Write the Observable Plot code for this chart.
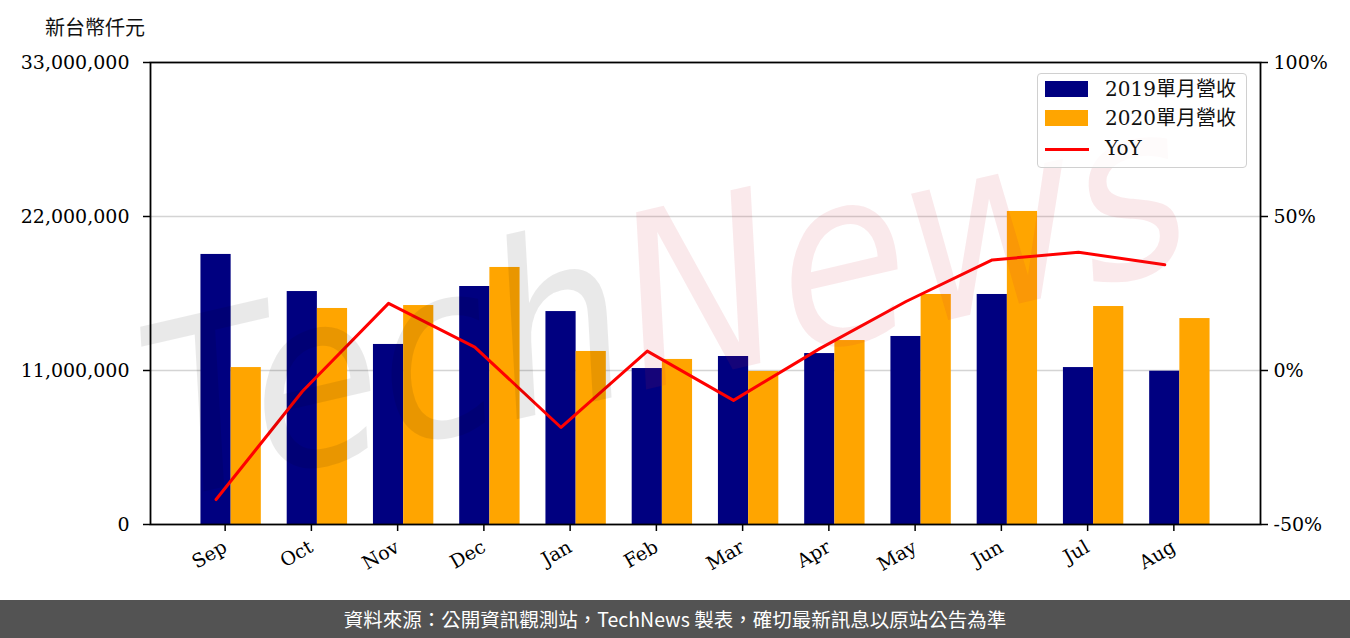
<!DOCTYPE html>
<html lang="zh-TW">
<head>
<meta charset="utf-8">
<script src="https://cdn.jsdelivr.net/npm/d3@7"></script>
<script src="https://cdn.jsdelivr.net/npm/@observablehq/plot@0.6"></script>
<style>
  body { margin: 0; background: #fff; }
  #wrap { position: relative; width: 1350px; height: 638px; overflow: hidden; background: #fff; }
  #ylab { position: absolute; left: 45px; top: 16px; font: 20px/22px "Noto Sans CJK TC", sans-serif; color: #111; }
  #legend { position: absolute; left: 1037px; top: 73px; width: 210px; height: 95px; border: 1.5px solid #d0d0d0; border-radius: 4px; background: rgba(255,255,255,0.8); box-sizing: border-box; }
  .sw { position: absolute; left: 7px; width: 43px; height: 16px; }
  .ln { position: absolute; left: 7px; width: 44px; height: 3px; }
  .lt { position: absolute; left: 67px; font: 20px/24px "DejaVu Serif", "Noto Sans CJK TC", serif; color: #111; white-space: nowrap; }
  #footer { position: absolute; left: 0; top: 600px; width: 1350px; height: 38px; background: #535353; color: #fff; text-align: center; font: 19.5px/38px "Noto Sans CJK TC", sans-serif; }
</style>
</head>
<body>
<div id="wrap">
  <div id="chart"></div>
  <div id="ylab"></div>
  <div id="legend"></div>
  <div id="footer" lang="zh-TW"></div>
</div>
<script>
const months = ["Sep","Oct","Nov","Dec","Jan","Feb","Mar","Apr","May","Jun","Jul","Aug"];
const rev2019 = [19290000,16640000,12860000,17000000,15210000,11140000,12000000,12210000,13430000,16430000,11210000,10950000];
const rev2020 = [11210000,15430000,15640000,18360000,12360000,11790000,10930000,13140000,16430000,22360000,15570000,14710000];
const yoy = [-41.9,-6.8,21.8,7.6,-18.5,6.3,-9.7,7.1,22.4,35.9,38.4,34.3];
const leftTicks = [0, 11000000, 22000000, 33000000];
const gridTicks = [11000000, 22000000];
const pctTicks = [-50, 0, 50, 100];
const seriesNames = ["2019單月營收", "2020單月營收", "YoY"];
const colors = ["#000080", "#ffa500", "#ff0000"];
const yLabel = "新台幣仟元";
const footerText = "資料來源：公開資訊觀測站，TechNews 製表，確切最新訊息以原站公告為準";
const watermark = ["Tech", "News"];

const yMax = 33000000;
const pctMin = -50, pctMax = 100;
const toY = p => (p - pctMin) / (pctMax - pctMin) * yMax;
const fromY = v => v / yMax * (pctMax - pctMin) + pctMin;
const barW = 0.35;
const data = months.map((m, i) => ({i, m, a: rev2019[i], b: rev2020[i], p: yoy[i]}));

const chart = Plot.plot({
  width: 1350,
  height: 600,
  marginLeft: 150,
  marginRight: 90,
  marginTop: 62,
  marginBottom: 76,
  style: {fontFamily: "'DejaVu Serif', 'Noto Sans CJK TC', serif", fontSize: "19px", color: "#000", background: "transparent"},
  x: {type: "linear", domain: [-0.935, 11.935]},
  y: {domain: [0, yMax]},
  marks: [
    Plot.ruleY(gridTicks, {stroke: "#d4d4d4", strokeWidth: 1.5}),
    Plot.rect(data, {x1: d => d.i - barW, x2: d => d.i, y1: 0, y2: "a", fill: colors[0]}),
    Plot.rect(data, {x1: d => d.i, x2: d => d.i + barW, y1: 0, y2: "b", fill: colors[1]}),
    Plot.line(data, {x: d => d.i - barW / 2, y: d => toY(d.p), stroke: colors[2], strokeWidth: 3}),
    Plot.frame({stroke: "#000", strokeWidth: 1.8}),
    Plot.axisY({ticks: leftTicks, tickFormat: d3.format(","), tickSize: 7, tickPadding: 14, strokeWidth: 1.5, label: null}),
    Plot.axisY({anchor: "right", ticks: pctTicks.map(toY), tickFormat: v => Math.round(fromY(v)) + "%", tickSize: 7, tickPadding: 6, strokeWidth: 1.5, label: null}),
    Plot.axisX({ticks: d3.range(months.length), tickFormat: i => months[i], tickRotate: -30, tickSize: 7, tickPadding: 14, dx: -6, strokeWidth: 1.5, label: null})
  ]
});
document.getElementById("chart").appendChild(chart);

// watermark
const svg = d3.select(chart);
const wm = svg.append("text")
  .attr("transform", "translate(665,300) rotate(-13)")
  .attr("text-anchor", "middle")
  .attr("dominant-baseline", "central")
  .style("font-family", "'DejaVu Sans', sans-serif")
  .style("font-style", "italic")
  .style("font-size", "240px")
  .attr("textLength", 1060)
  .attr("lengthAdjust", "spacingAndGlyphs")
  .style("pointer-events", "none");
wm.append("tspan").text(watermark[0]).attr("fill", "rgba(0,0,0,0.085)");
wm.append("tspan").text(watermark[1]).attr("fill", "rgba(210,40,60,0.1)");

document.getElementById("ylab").textContent = yLabel;
document.getElementById("footer").textContent = footerText;

const legend = document.getElementById("legend");
const rows = [{top: 7, kind: "sw"}, {top: 36, kind: "sw"}, {top: 74, kind: "ln"}];
const textTops = [3, 32, 62];
seriesNames.forEach((name, k) => {
  const s = document.createElement("div");
  s.className = rows[k].kind;
  s.style.top = rows[k].top + "px";
  s.style.background = colors[k];
  legend.appendChild(s);
  const t = document.createElement("div");
  t.className = "lt";
  t.style.top = textTops[k] + "px";
  t.textContent = name;
  legend.appendChild(t);
});
</script>
</body>
</html>
